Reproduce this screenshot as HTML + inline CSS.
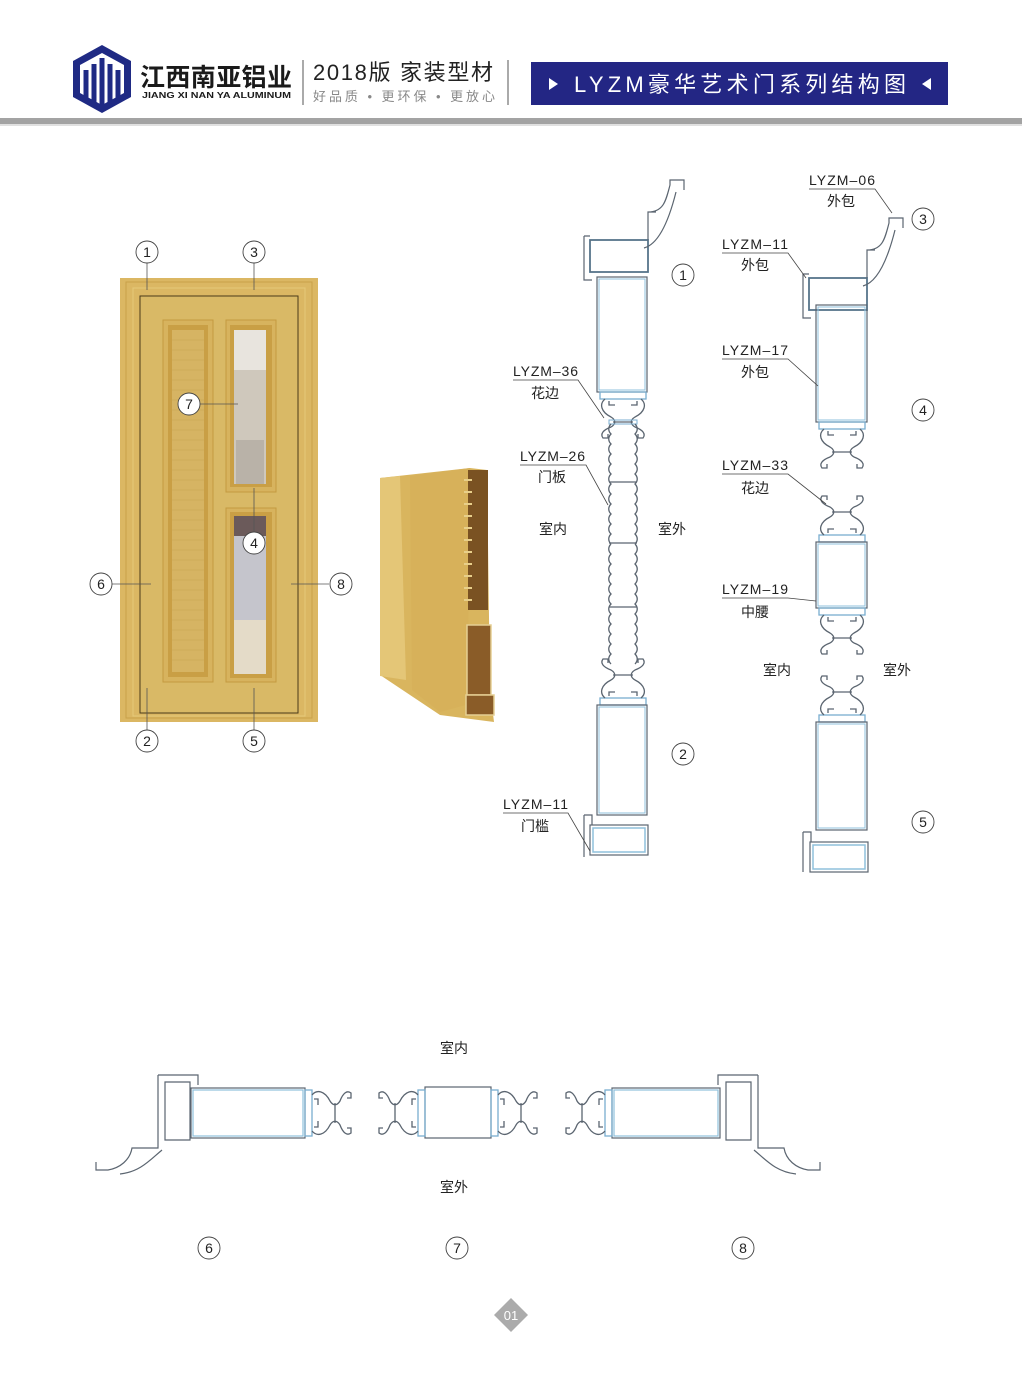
<!DOCTYPE html>
<html><head><meta charset="utf-8"><style>
html,body{margin:0;padding:0;background:#fff}
body{width:1022px;height:1377px;position:relative;overflow:hidden;font-family:"Liberation Sans","Noto Sans CJK SC",sans-serif}
svg{position:absolute;left:0;top:0}
</style></head><body>
<svg width="1022" height="1377" viewBox="0 0 1022 1377" xmlns="http://www.w3.org/2000/svg" font-family="Liberation Sans, Noto Sans CJK SC, sans-serif">
<defs>
 <g id="fl" fill="none" stroke="#5b6570" stroke-width="1.3">
  <rect x="-23" y="0" width="46" height="7" stroke="#7aaed0"/>
  <path d="M-18,7 C-24,12 -22,20 -12,25 C-7,28 -7,32 -12,35 C-20,38 -23,42 -20,46 H-15 V42 M15,42 V46 H20 C23,42 20,38 12,35 C7,32 7,28 12,25 C22,20 24,12 18,7"/>
  <path d="M-14,9 V13 H-8 M14,9 V13 H8"/>
  <line x1="-10" y1="30" x2="10" y2="30"/>
 </g>
 <g id="wv" fill="none" stroke="#5b6570" stroke-width="1.3">
  <path d="M0,0 c-3,3 -3,7 0,10 c-3,3 -3,7 0,10 c-3,3 -3,7 0,10 c-3,3 -3,7 0,10 c-3,3 -3,7 0,10 c-3,3 -3,7 0,10 c-3,3 -3,7 0,10 c-3,3 -3,7 0,10 c-3,3 -3,7 0,10 c-3,3 -3,7 0,10 c-3,3 -3,7 0,10 c-3,3 -3,7 0,10"/>
 </g>
 <g id="cas" fill="none" stroke="#5b6570" stroke-width="1.2">
  <rect x="6" y="0" width="58" height="32" stroke="#7aaed0" stroke-width="2"/>
  <rect x="6" y="0" width="58" height="32"/>
  <path d="M0,-4 V40 H8 M0,-4 H6"/>
  <path d="M64,0 V-28 H72 M64,-28 C80,-28 82,-40 86,-55 V-60 H100 V-50"/>
  <path d="M60,8 C75,4 85,-20 92,-48"/>
 </g>
</defs>

<!-- Header -->
<polygon points="102,45 131,61 131,97 102,113 73,97 73,61" fill="#1f2a84"/>
<polygon points="102,53 124,65 124,93 102,105 80,93 80,65" fill="#fff"/>
<path d="M86,70 L86,100 M94,64 L94,106 M102,58 V110 M110,64 V106 M118,70 V100" stroke="#1f2a84" stroke-width="5"/>
<text x="140" y="86" font-size="25" font-weight="bold" fill="#1a1a1a" textLength="152">江西南亚铝业</text>
<text x="142" y="98" font-size="8.6" font-weight="bold" fill="#1a1a1a" textLength="149" lengthAdjust="spacingAndGlyphs">JIANG XI NAN YA ALUMINUM</text>
<line x1="303" y1="60" x2="303" y2="105" stroke="#555" stroke-width="1"/>
<text x="313" y="80" font-size="22" fill="#222" textLength="180">2018版  家装型材</text>
<text x="313" y="101" font-size="13" fill="#888" textLength="182">好品质 • 更环保 • 更放心</text>
<line x1="508" y1="60" x2="508" y2="105" stroke="#555" stroke-width="1"/>
<rect x="531" y="62" width="417" height="43" fill="#232684"/>
<polygon points="549,78 549,90 558,84" fill="#fff"/>
<text x="574" y="92" font-size="22" fill="#fff" textLength="332">LYZM豪华艺术门系列结构图</text>
<polygon points="931,78 931,90 922,84" fill="#fff"/>
<rect x="0" y="118" width="1022" height="6" fill="#a3a3a3"/>
<rect x="0" y="124" width="1022" height="2" fill="#e0e0e0"/>

<!-- Door -->
<polygon points="120,278 318,278 318,722 120,722" fill="#dbb763"/>
<rect x="126" y="282" width="186" height="436" fill="none" stroke="#c8a04a" stroke-width="1"/>
<rect x="133" y="288" width="172" height="428" fill="none" stroke="#e6c97a" stroke-width="1"/>
<rect x="140" y="296" width="158" height="417" fill="#d9b966" stroke="#4a3a1a" stroke-width="1"/>
<rect x="163" y="320" width="50" height="362" fill="#d7b35e" stroke="#c49a40"/>
<rect x="168" y="325" width="40" height="352" fill="#c99f45"/>
<rect x="172" y="330" width="32" height="342" fill="#d6b463"/>
<g stroke="#c7a350" stroke-width="0.6">
<path d="M172,340H204M172,350H204M172,360H204M172,370H204M172,380H204M172,390H204M172,400H204M172,410H204M172,420H204M172,430H204M172,440H204M172,450H204M172,460H204M172,470H204M172,480H204M172,490H204M172,500H204M172,510H204M172,520H204M172,530H204M172,540H204M172,550H204M172,560H204M172,570H204M172,580H204M172,590H204M172,600H204M172,610H204M172,620H204M172,630H204M172,640H204M172,650H204M172,660H204"/>
</g>
<rect x="226" y="320" width="50" height="172" fill="#d7b35e" stroke="#c49a40"/>
<rect x="230" y="325" width="42" height="162" fill="#c99f45"/>
<rect x="234" y="330" width="32" height="154" fill="#cfc8bc"/>
<rect x="234" y="330" width="32" height="40" fill="#e8e4de"/>
<rect x="236" y="440" width="28" height="44" fill="#b9b2a8"/>
<rect x="226" y="508" width="50" height="174" fill="#d7b35e" stroke="#c49a40"/>
<rect x="230" y="512" width="42" height="166" fill="#c99f45"/>
<rect x="234" y="516" width="32" height="158" fill="#c5c5cc"/>
<rect x="234" y="516" width="32" height="20" fill="#6b5a5a"/>
<rect x="234" y="620" width="32" height="54" fill="#e4dbc8"/>

<!-- door callouts -->
<g stroke="#555" stroke-width="0.8" fill="none">
<line x1="147" y1="263" x2="147" y2="290"/><line x1="254" y1="263" x2="254" y2="290"/>
<line x1="147" y1="688" x2="147" y2="730"/><line x1="254" y1="688" x2="254" y2="730"/>
<line x1="112" y1="584" x2="151" y2="584"/><line x1="291" y1="584" x2="329" y2="584"/>
<line x1="200" y1="404" x2="238" y2="404"/><line x1="254" y1="488" x2="254" y2="532"/>
</g>
<g fill="#fff" stroke="#444" stroke-width="0.9">
<circle cx="147" cy="252" r="11"/><circle cx="254" cy="252" r="11"/>
<circle cx="147" cy="741" r="11"/><circle cx="254" cy="741" r="11"/>
<circle cx="101" cy="584" r="11"/><circle cx="341" cy="584" r="11"/>
<circle cx="189" cy="404" r="11"/><circle cx="254" cy="543" r="11"/>
<circle cx="683" cy="275" r="11"/><circle cx="683" cy="754" r="11"/>
<circle cx="923" cy="219" r="11"/><circle cx="923" cy="410" r="11"/><circle cx="923" cy="822" r="11"/>
<circle cx="209" cy="1248" r="11"/><circle cx="457" cy="1248" r="11"/><circle cx="743" cy="1248" r="11"/>
</g>
<g font-size="14" text-anchor="middle" fill="#222">
<text x="147" y="257">1</text><text x="254" y="257">3</text><text x="147" y="746">2</text><text x="254" y="746">5</text>
<text x="101" y="589">6</text><text x="341" y="589">8</text><text x="189" y="409">7</text><text x="254" y="548">4</text>
<text x="683" y="280">1</text><text x="683" y="759">2</text>
<text x="923" y="224">3</text><text x="923" y="415">4</text><text x="923" y="827">5</text>
<text x="209" y="1253">6</text><text x="457" y="1253">7</text><text x="743" y="1253">8</text>
</g>

<!-- 3D corner -->
<polygon points="380,478 470,468 487,470 490,690 494,722 440,715 380,675" fill="#d9b55e"/>
<polygon points="380,478 400,476 406,680 380,676" fill="#e4c677"/>
<polygon points="410,476 470,468 468,655 484,700 440,712 412,690" fill="#d7b15a"/>
<rect x="468" y="470" width="20" height="140" fill="#7a5222"/>
<g stroke="#e8cf8a" stroke-width="2"><path d="M464,480h8M464,492h8M464,504h8M464,516h8M464,528h8M464,540h8M464,552h8M464,564h8M464,576h8M464,588h8M464,600h8"/></g>
<rect x="467" y="625" width="24" height="70" fill="#8a5c28" stroke="#e5cf93" stroke-width="1.5"/>
<rect x="466" y="695" width="28" height="20" fill="#8a5c28" stroke="#e5cf93" stroke-width="1.5"/>

<!-- Column 1 -->
<use href="#cas" x="584" y="240"/>
<rect x="597" y="277" width="50" height="115" fill="none" stroke="#5b6570" stroke-width="1.2"/>
<rect x="599" y="279" width="46" height="111" fill="none" stroke="#8fc0dc" stroke-width="1"/>
<use href="#fl" transform="translate(623,392)"/>
<rect x="609" y="420" width="28" height="4" fill="none" stroke="#7aaed0"/>
<use href="#wv" x="611" y="424"/><use href="#wv" x="611" y="544"/>
<use href="#wv" transform="translate(635,424) scale(-1,1)"/><use href="#wv" transform="translate(635,544) scale(-1,1)"/>
<path d="M609,482H637M609,543H637M609,607H637" stroke="#5b6570" stroke-width="1.2"/>
<use href="#fl" transform="translate(623,705) scale(1,-1)"/>
<rect x="597" y="705" width="50" height="110" fill="none" stroke="#5b6570" stroke-width="1.2"/>
<rect x="599" y="707" width="46" height="106" fill="none" stroke="#8fc0dc" stroke-width="1"/>
<rect x="590" y="825" width="58" height="30" fill="none" stroke="#5b6570" stroke-width="1.2"/>
<rect x="593" y="828" width="52" height="24" fill="none" stroke="#8fc0dc" stroke-width="1.5"/>
<path d="M584,815V857M584,815H592V825" fill="none" stroke="#5b6570" stroke-width="1.2"/>

<!-- Column 2 -->
<use href="#cas" x="803" y="278"/>
<rect x="816" y="305" width="51" height="117" fill="none" stroke="#5b6570" stroke-width="1.2"/>
<rect x="818" y="307" width="47" height="113" fill="none" stroke="#8fc0dc" stroke-width="1"/>
<use href="#fl" transform="translate(842,422)"/>
<use href="#fl" transform="translate(842,542) scale(1,-1)"/>
<rect x="816" y="542" width="51" height="66" fill="none" stroke="#5b6570" stroke-width="1.2"/>
<rect x="818" y="544" width="47" height="62" fill="none" stroke="#8fc0dc" stroke-width="1"/>
<use href="#fl" transform="translate(842,608)"/>
<use href="#fl" transform="translate(842,722) scale(1,-1)"/>
<rect x="816" y="722" width="51" height="108" fill="none" stroke="#5b6570" stroke-width="1.2"/>
<rect x="818" y="724" width="47" height="104" fill="none" stroke="#8fc0dc" stroke-width="1"/>
<rect x="810" y="842" width="58" height="30" fill="none" stroke="#5b6570" stroke-width="1.2"/>
<rect x="813" y="845" width="52" height="24" fill="none" stroke="#8fc0dc" stroke-width="1.5"/>
<path d="M803,832V872M803,832H811V842" fill="none" stroke="#5b6570" stroke-width="1.2"/>

<!-- Labels -->
<g font-size="14" fill="#222">
<text x="513" y="376" textLength="65">LYZM–36</text><text x="531" y="398">花边</text>
<text x="520" y="461" textLength="65">LYZM–26</text><text x="538" y="482">门板</text>
<text x="539" y="534">室内</text><text x="658" y="534">室外</text>
<text x="503" y="809" textLength="65">LYZM–11</text><text x="521" y="831">门槛</text>
<text x="809" y="185" textLength="66">LYZM–06</text><text x="827" y="206">外包</text>
<text x="722" y="249" textLength="66">LYZM–11</text><text x="741" y="270">外包</text>
<text x="722" y="355" textLength="66">LYZM–17</text><text x="741" y="377">外包</text>
<text x="722" y="470" textLength="66">LYZM–33</text><text x="741" y="493">花边</text>
<text x="722" y="594" textLength="66">LYZM–19</text><text x="741" y="617">中腰</text>
<text x="763" y="675">室内</text><text x="883" y="675">室外</text>
<text x="440" y="1053">室内</text><text x="440" y="1192">室外</text>
</g>
<g stroke="#444" stroke-width="0.8" fill="none">
<path d="M513,380H578L604,418"/><path d="M520,465H586L608,505"/>
<path d="M503,813H568L590,851"/>
<path d="M809,189H875L892,213"/><path d="M722,253H788L806,278"/>
<path d="M722,359H788L818,386"/><path d="M722,474H788L826,504"/>
<path d="M722,598H788L816,601"/>
</g>

<!-- Bottom row -->
<g fill="none" stroke="#5b6570" stroke-width="1.2">
 <path d="M158,1075H198V1085M158,1075V1140M165,1082H190V1140H165Z"/>
 <path d="M158,1140 L158,1148 H132 C130,1160 120,1168 108,1170 H96 V1162"/>
 <path d="M162,1150 C150,1160 140,1172 120,1174"/>
 <rect x="191" y="1088" width="114" height="50"/>
 <rect x="193" y="1090" width="110" height="46" stroke="#8fc0dc"/>
 <rect x="425" y="1087" width="66" height="51"/>
 <rect x="612" y="1088" width="108" height="50"/>
 <rect x="614" y="1090" width="104" height="46" stroke="#8fc0dc"/>
 <path d="M758,1075H718V1085M758,1075V1140M751,1082H726V1140H751Z"/>
 <path d="M758,1140 L758,1148 H784 C786,1160 796,1168 808,1170 H820 V1162"/>
 <path d="M754,1150 C766,1160 776,1172 796,1174"/>
</g>
<use href="#fl" transform="translate(305,1113) rotate(-90)"/>
<use href="#fl" transform="translate(425,1113) rotate(90)"/>
<use href="#fl" transform="translate(491,1113) rotate(-90)"/>
<use href="#fl" transform="translate(612,1113) rotate(90)"/>

<!-- page num -->
<polygon points="511,1298 528,1315 511,1332 494,1315" fill="#ababab"/>
<text x="511" y="1320" font-size="13" fill="#fff" text-anchor="middle">01</text>
</svg>
</body></html>
